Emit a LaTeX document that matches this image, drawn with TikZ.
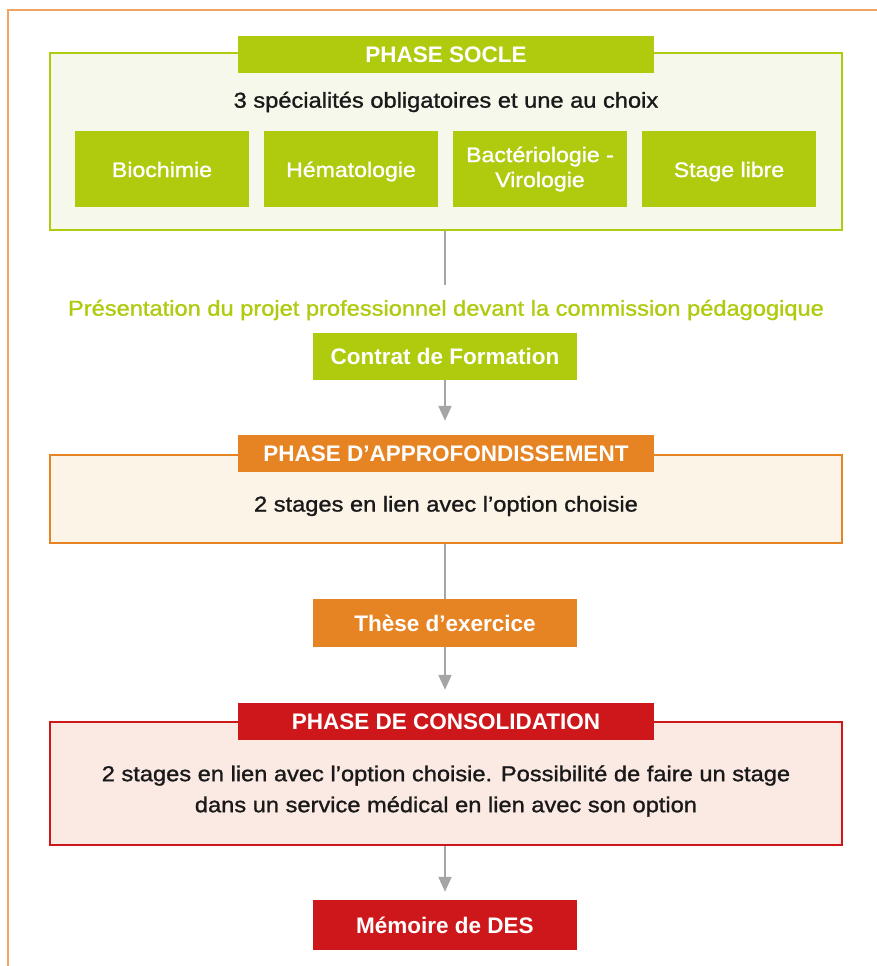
\documentclass[tikz,border=0pt]{standalone}
\usepackage{fontspec}
\setmainfont{Liberation Sans}
\newfontfamily\medfont{Liberation Sans}[FakeStretch=1.1, FakeBold=1.2]
\usetikzlibrary{arrows.meta}
\definecolor{cgreen}{RGB}{176,202,14}
\definecolor{lgreen}{RGB}{246,248,236}
\definecolor{corange}{RGB}{230,131,35}
\definecolor{lorange}{RGB}{253,244,232}
\definecolor{cred}{RGB}{205,23,27}
\definecolor{lred}{RGB}{251,234,227}
\definecolor{cframe}{RGB}{240,165,100}
\definecolor{carrow}{RGB}{165,165,165}
\definecolor{ctext}{RGB}{25,25,25}
\tikzset{
  bigbox/.style={draw=#1, line width=2pt, minimum width=792pt, inner sep=0pt},
  tabbox/.style={fill=#1, minimum width=416pt, minimum height=37pt, inner sep=0pt, text=white, font=\bfseries\fontsize{22.5}{26}\selectfont},
  solid box/.style={fill=#1, minimum width=264pt, inner sep=0pt, text=white, font=\bfseries\fontsize{22.5}{26}\selectfont},
  subbox/.style={fill=cgreen, minimum width=174pt, minimum height=76pt, inner sep=0pt, text=white, align=center, font=\medfont\fontsize{21}{25}\selectfont},
  oneline/.style={text height=20pt, text depth=4pt},
  bodytext/.style={text=ctext, align=center, font=\medfont\fontsize{21.5}{31}\selectfont},
  conn/.style={draw=carrow, line width=2pt},
  arr/.style={conn, -{Triangle[width=13pt,length=15pt]}},
}
\begin{document}
\begin{tikzpicture}[x=1pt,y=-1pt]
\useasboundingbox (0,0) rectangle (877,966);
\draw[cframe, line width=1.5pt] (8,966) -- (8,10) -- (877,10);

% Phase socle
\node[bigbox=cgreen, fill=lgreen, minimum height=177pt] (socle) at (446,141.5) {};
\node[tabbox=cgreen] (socletab) at (446,54.5) {PHASE SOCLE};
\node[bodytext] (soclet) at (446,102) {3 spécialités obligatoires et une au choix};
\node[subbox, oneline] (bio) at (162,169) {Biochimie};
\node[subbox, oneline] (hema) at (351,169) {Hématologie};
\node[subbox] (bact) at (540,169) {Bactériologie -\\Virologie};
\node[subbox, oneline] (stage) at (729,169) {Stage libre};

\coordinate (c1) at (445,285);
\draw[conn] (socle.south -| c1) -- (c1);
\node[text=cgreen, font=\medfont\fontsize{21.5}{26}\selectfont] (pres) at (446,310) {Présentation du projet professionnel devant la commission pédagogique};
\node[solid box=cgreen, minimum height=47pt] (contrat) at (445,356.5) {Contrat de Formation};

% Phase approfondissement
\node[bigbox=corange, fill=lorange, minimum height=88pt] (appro) at (446,499) {};
\node[tabbox=corange] (approtab) at (446,453.5) {PHASE D’APPROFONDISSEMENT};
\node[bodytext] (approt) at (446,506) {2 stages en lien avec l’option choisie};
\draw[arr, shorten >=14pt] (contrat.south) -- (contrat.south |- approtab.north);

\node[solid box=corange, minimum height=48pt] (these) at (445,623) {Thèse d’exercice};
\draw[conn] (appro.south -| these) -- (these.north);

% Phase consolidation
\node[bigbox=cred, fill=lred, minimum height=123pt] (conso) at (446,783.5) {};
\node[tabbox=cred] (consotab) at (446,721.5) {PHASE DE CONSOLIDATION};
\node[bodytext] (consot) at (446,791) {2 stages en lien avec l’option choisie. Possibilité de faire un stage\\dans un service médical en lien avec son option};
\draw[arr, shorten >=13pt] (these.south) -- (these.south |- consotab.north);

\node[solid box=cred, minimum height=50pt] (memoire) at (445,925) {Mémoire de DES};
\draw[arr, shorten >=8pt] (conso.south -| memoire) -- (memoire.north);
\end{tikzpicture}
\end{document}
